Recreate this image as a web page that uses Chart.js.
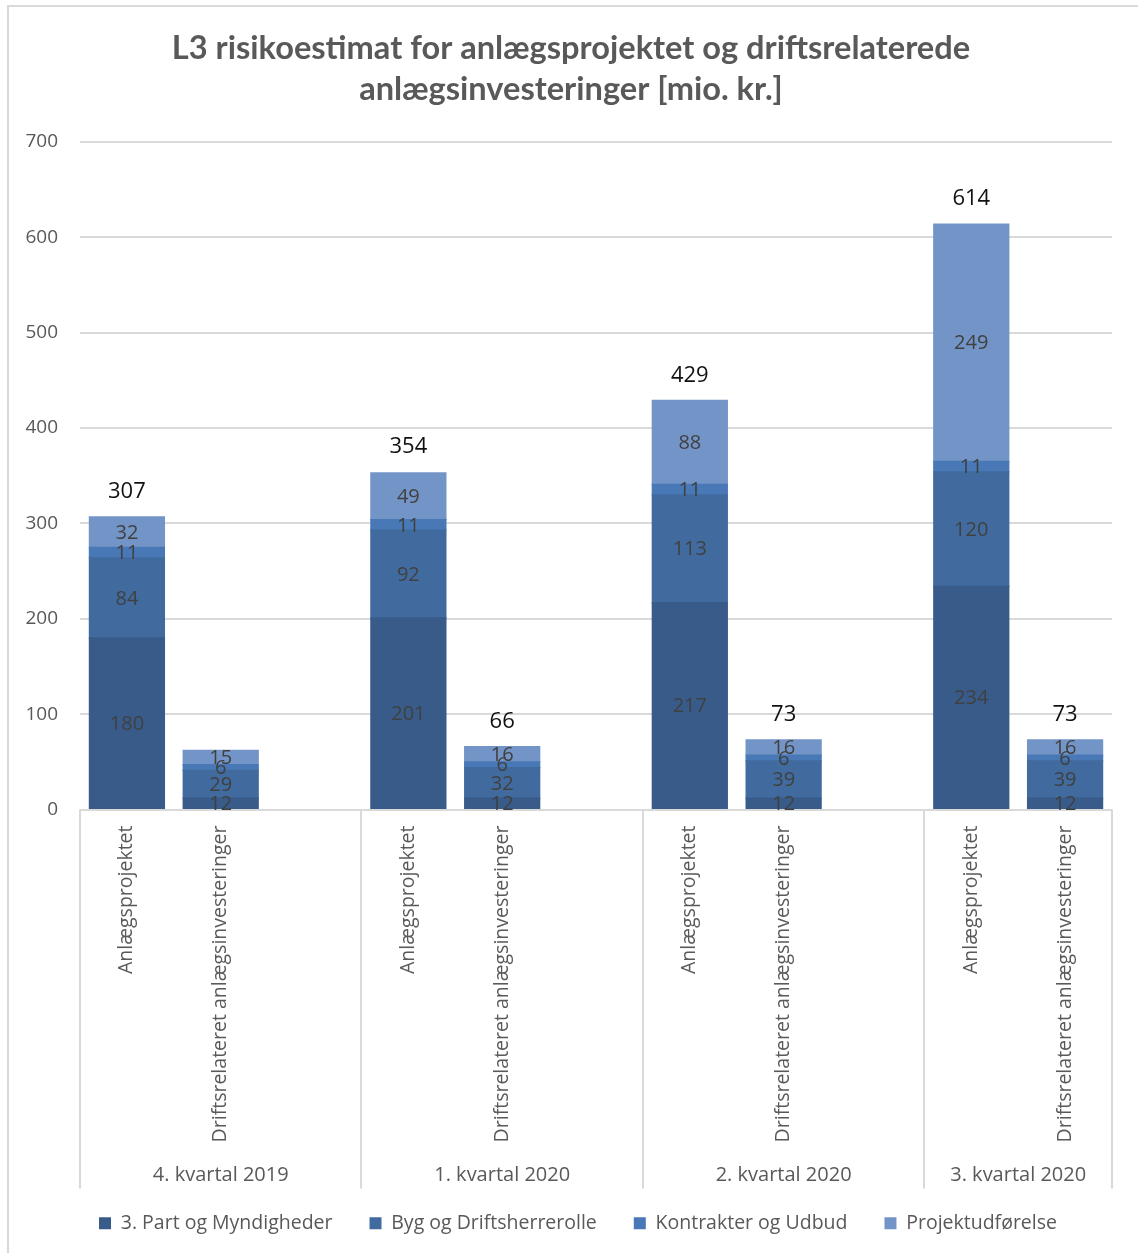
<!DOCTYPE html>
<html>
<head>
<meta charset="utf-8">
<script src="https://cdn.jsdelivr.net/npm/chart.js@4.4.1/dist/chart.umd.min.js"></script>
<style>
  html, body { margin: 0; padding: 0; background: #ffffff; }
  #wrap { position: relative; width: 1138px; height: 1253px; }
  canvas { display: block; }
</style>
</head>
<body>
<div id="wrap"><canvas id="c" width="1138" height="1253"></canvas></div>
<script>
// ---- Data ----
const quarters = ['4. kvartal 2019', '1. kvartal 2020', '2. kvartal 2020', '3. kvartal 2020'];
const barTypes = ['Anlægsprojektet', 'Driftsrelateret anlægsinvesteringer'];
const seriesNames = ['3. Part og Myndigheder', 'Byg og Driftsherrerolle', 'Kontrakter og Udbud', 'Projektudførelse'];
// order per quarter: Anlægsprojektet, Driftsrelateret
const partMyndigheder   = [180, 12, 201, 12, 217, 12, 234, 12];
const bygDriftsherre    = [84, 29, 92, 32, 113, 39, 120, 39];
const kontrakterUdbud   = [11, 6, 11, 6, 11, 6, 11, 6];
const projektudfoerelse = [32, 15, 49, 16, 88, 16, 249, 16];
const totals            = [307, null, 354, 66, 429, 73, 614, 73];
const yTicks = [0, 100, 200, 300, 400, 500, 600, 700];

const seriesColors = ['#385b8a', '#416b9f', '#4878b6', '#7394c6'];

// ---- Build category table (empty slot between quarters, like the original) ----
const labels = [];
const groupOf = [];
const slotToIdx = [];
quarters.forEach((q, qi) => {
  barTypes.forEach((b, bi) => { labels.push(b); groupOf.push(qi); slotToIdx.push(qi * 2 + bi); });
  if (qi < quarters.length - 1) { labels.push(''); groupOf.push(qi); slotToIdx.push(null); }
});
const spread = arr => slotToIdx.map(i => (i === null ? null : arr[i]));
const allSeries = [partMyndigheder, bygDriftsherre, kontrakterUdbud, projektudfoerelse];
const totalsSlots = spread(totals);

const FONT = "'Open Sans', 'DejaVu Sans', sans-serif";
const TEXT = '#595959';
const GRID = '#d9d9d9';
const SEP_LEN = 379;   // length of the group separator lines below the plot
const GROUP_Y = 366;   // offset of the quarter labels below the plot

const decorPlugin = {
  id: 'decor',
  afterLayout(chart) {
    // nudge the centred title / legend like the original layout
    const t = chart.titleBlock, l = chart.legend;
    if (t) { t.left += 10; t.right += 10; }
    if (l) { l.left += 17; l.right += 17; }
  },
  beforeDraw(chart) {
    const ctx = chart.ctx;
    ctx.save();
    ctx.strokeStyle = GRID;
    ctx.lineWidth = 2;
    ctx.beginPath();
    ctx.moveTo(8, chart.height);
    ctx.lineTo(8, 6);
    ctx.lineTo(chart.width, 6);
    ctx.stroke();
    ctx.restore();
  },
  afterDatasetsDraw(chart) {
    const ctx = chart.ctx;
    ctx.save();
    ctx.textAlign = 'center';
    ctx.textBaseline = 'middle';
    ctx.font = "20px " + FONT;
    ctx.fillStyle = '#404040';
    chart.data.datasets.forEach((ds, di) => {
      const meta = chart.getDatasetMeta(di);
      meta.data.forEach((el, i) => {
        const v = ds.data[i];
        if (v === null || v === undefined) return;
        const p = el.getProps(['x', 'y', 'base'], true);
        ctx.fillText(String(v), p.x, (p.y + p.base) / 2 + 1);
      });
    });
    ctx.font = "22px " + FONT;
    ctx.fillStyle = '#111111';
    const x = chart.scales.x, y = chart.scales.y;
    totalsSlots.forEach((t, i) => {
      if (t === null) return;
      ctx.fillText(String(t), x.getPixelForValue(i), y.getPixelForValue(t) - 25);
    });
    ctx.restore();
  },
  afterDraw(chart) {
    const ctx = chart.ctx;
    const x = chart.scales.x;
    const area = chart.chartArea;
    const slotW = (area.right - area.left) / labels.length;
    const bottom = area.bottom + SEP_LEN;
    ctx.save();
    ctx.strokeStyle = GRID;
    ctx.lineWidth = 2;
    const bounds = [];
    let start = 0;
    quarters.forEach((q, qi) => {
      let end = start;
      while (end < labels.length && groupOf[end] === qi) end++;
      bounds.push([start, end]);
      start = end;
    });
    const edges = [x.getPixelForValue(0) - slotW / 2];
    bounds.forEach(b => edges.push(x.getPixelForValue(b[1] - 1) + slotW / 2));
    edges.forEach(px => {
      ctx.beginPath();
      ctx.moveTo(Math.round(px), area.bottom);
      ctx.lineTo(Math.round(px), bottom);
      ctx.stroke();
    });
    ctx.font = "20px " + FONT;
    ctx.fillStyle = TEXT;
    ctx.textAlign = 'center';
    ctx.textBaseline = 'middle';
    bounds.forEach((b, qi) => {
      const cx = (edges[qi] + edges[qi + 1]) / 2;
      ctx.fillText(quarters[qi], cx, area.bottom + GROUP_Y);
    });
    ctx.restore();
  }
};

new Chart(document.getElementById('c'), {
  type: 'bar',
  data: {
    labels: labels,
    datasets: allSeries.map((arr, i) => ({
      label: seriesNames[i],
      data: spread(arr),
      backgroundColor: seriesColors[i],
      borderWidth: 0,
      inflateAmount: 0.6,
      barPercentage: 0.8,
      categoryPercentage: 1.0
    }))
  },
  options: {
    responsive: false,
    animation: false,
    devicePixelRatio: 1,
    layout: { padding: { left: 10, right: 26, top: 0, bottom: 10 } },
    plugins: {
      title: {
        display: true,
        text: ['L3 risikoestimat for anlægsprojektet og driftsrelaterede', 'anlægsinvesteringer [mio. kr.]'],
        color: TEXT,
        font: { family: "Lato, 'Open Sans', sans-serif", size: 32.6, weight: 'bold', lineHeight: 1.288 },
        padding: { top: 27, bottom: 31 }
      },
      legend: {
        position: 'bottom',
        labels: {
          color: TEXT,
          font: { family: FONT, size: 19.5 },
          boxWidth: 12,
          boxHeight: 12,
          padding: 37
        }
      },
      tooltip: { enabled: false }
    },
    scales: {
      x: {
        stacked: true,
        grid: { display: false, drawTicks: false },
        border: { display: false },
        ticks: {
          color: TEXT,
          font: { family: FONT, size: 19.5 },
          minRotation: 90,
          maxRotation: 90,
          autoSkip: false,
          padding: 16
        },
        afterFit(scale) { scale.height = 367; }
      },
      y: {
        stacked: true,
        min: 0,
        max: 700,
        afterBuildTicks(scale) { scale.ticks = yTicks.map(v => ({ value: v })); },
        grid: { color: GRID, lineWidth: 2, drawTicks: false },
        border: { display: false },
        ticks: {
          color: TEXT,
          font: { family: FONT, size: 19 },
          padding: 22
        },
        afterFit(scale) { scale.width = 70; }
      }
    }
  },
  plugins: [decorPlugin]
});
</script>
</body>
</html>
